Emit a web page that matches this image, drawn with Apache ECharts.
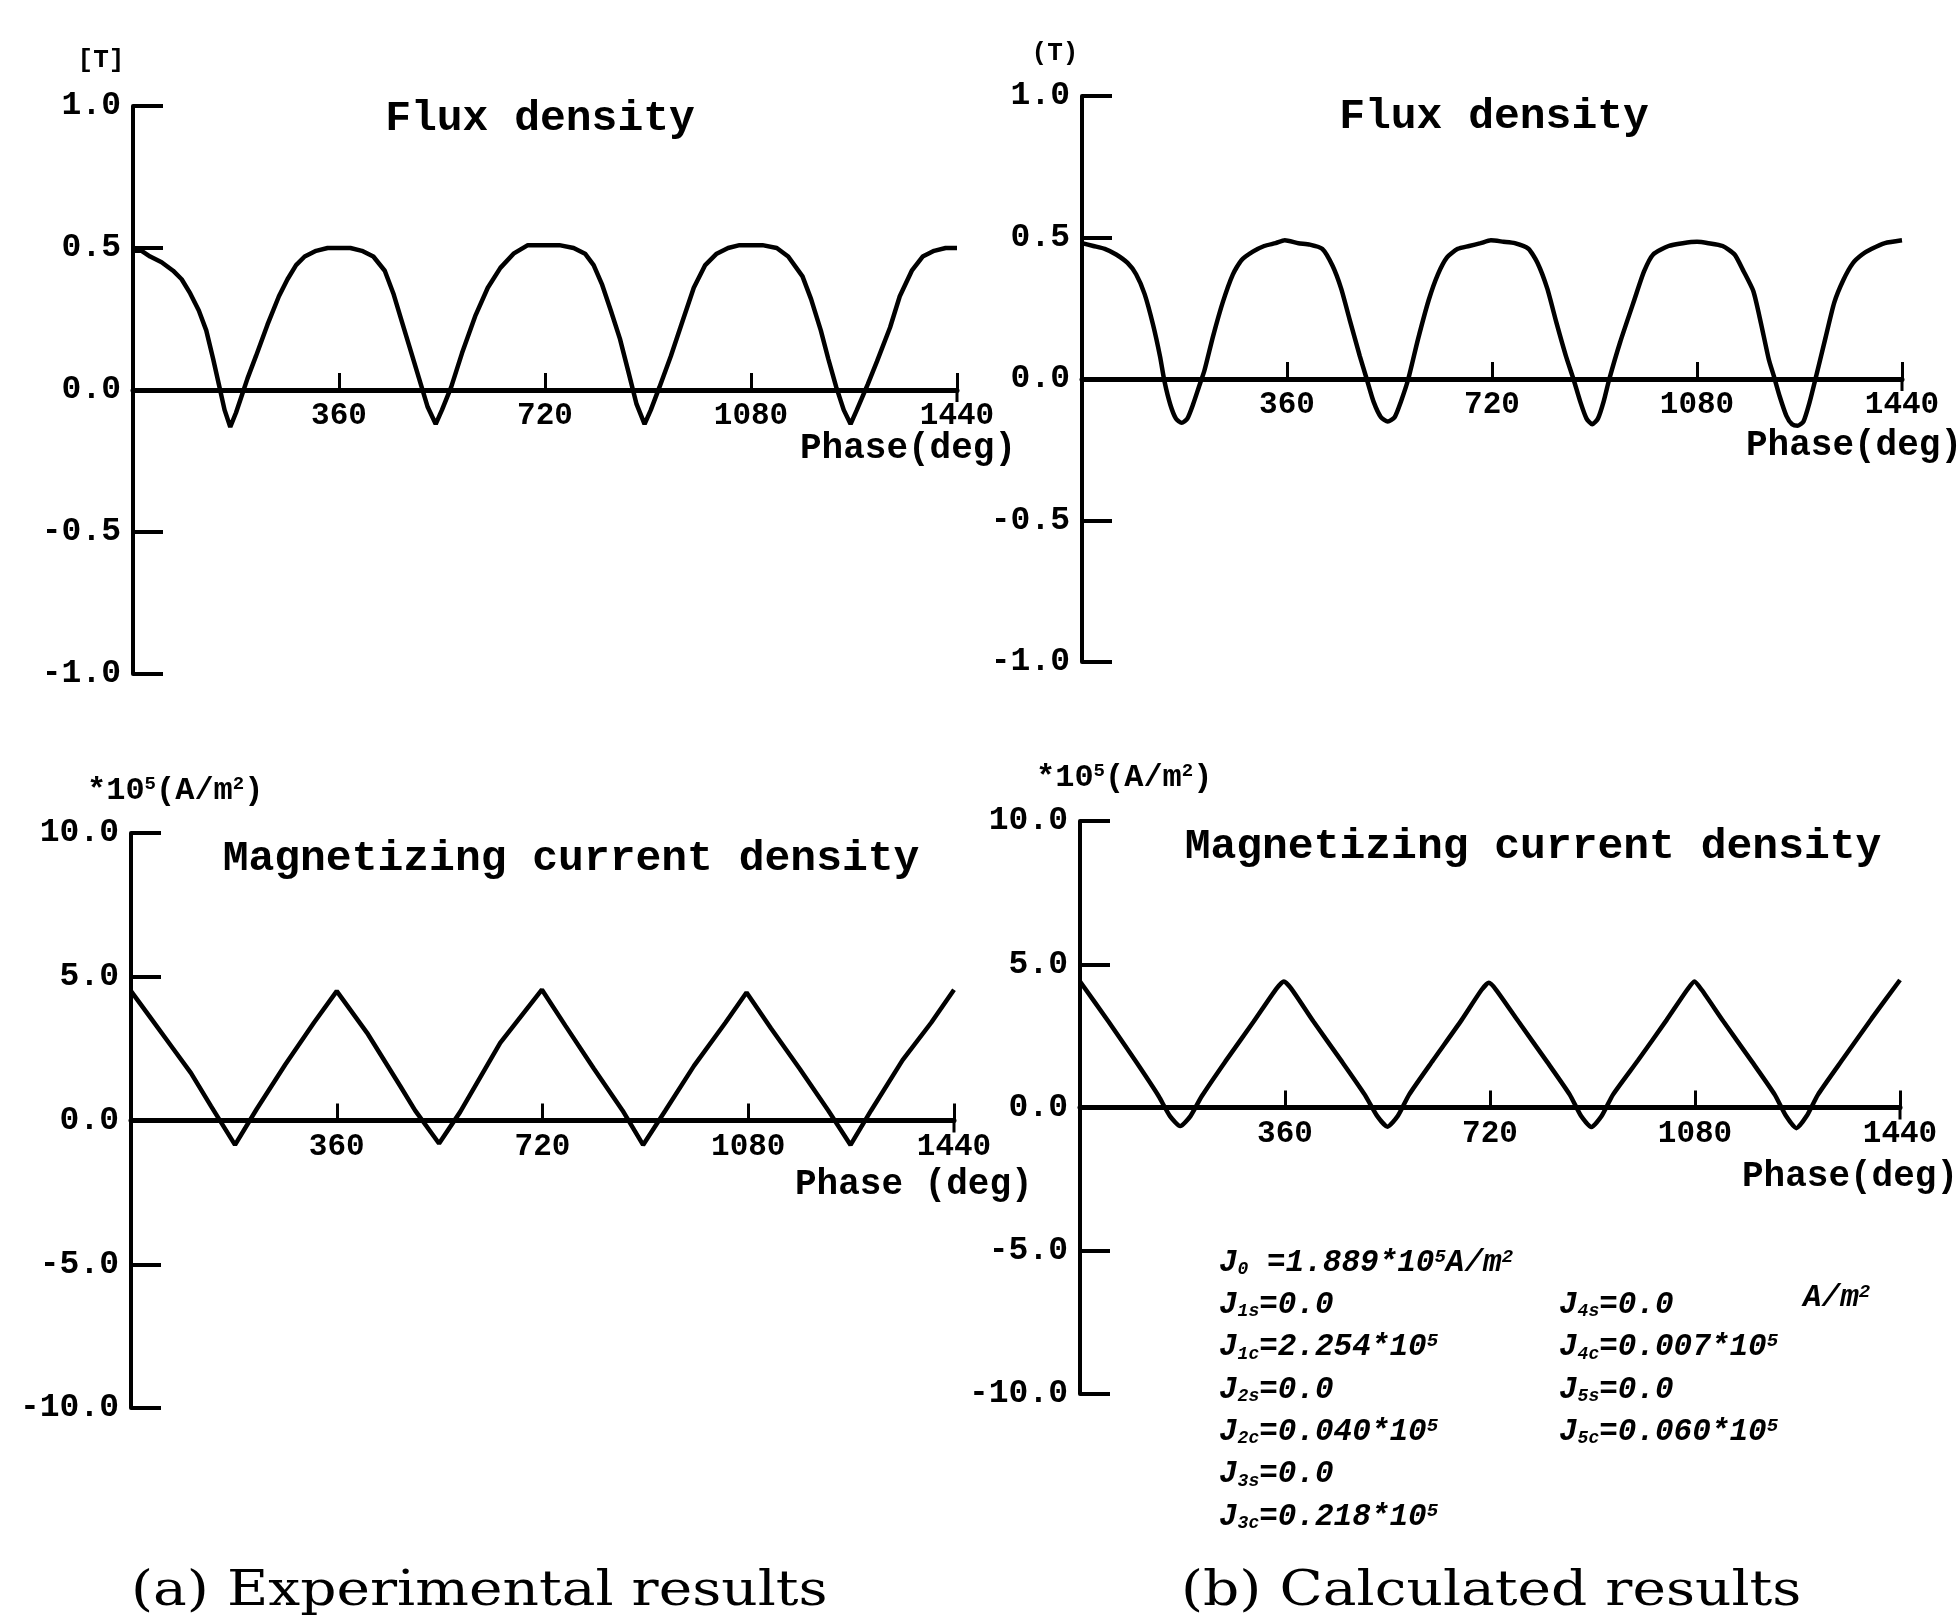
<!DOCTYPE html>
<html><head><meta charset="utf-8">
<script src="https://cdn.jsdelivr.net/npm/echarts@6/dist/echarts.min.js"></script>
<style>html,body{margin:0;padding:0;background:#fff}#c{width:1959px;height:1623px}</style>
</head><body><div id="c"></div>
<script>
// ---------------- data ----------------
const phaseMin = 0, phaseMax = 1440, phaseStep = 360;
const fluxRange = [-1.0, 1.0, 0.5];
const currentRange = [-10.0, 10.0, 5.0];

const fluxExp = [
 [0,0.49],[15,0.49],[30,0.47],[50,0.45],[70,0.42],[85,0.39],[100,0.34],[115,0.28],[128,0.21],[140,0.11],
 [150,0.02],[160,-0.07],[170,-0.13],[180,-0.08],[190,-0.02],[200,0.04],[215,0.12],[235,0.23],[255,0.33],[270,0.39],
 [285,0.44],[300,0.47],[320,0.49],[340,0.50],[360,0.50],
 [380,0.50],[400,0.49],[420,0.47],[440,0.42],[455,0.34],[470,0.24],[488,0.12],[500,0.04],[515,-0.06],[529,-0.12],
 [540,-0.07],[556,0.01],[575,0.13],[598,0.26],[620,0.36],[642,0.43],[665,0.48],[690,0.51],[720,0.51],
 [745,0.51],[770,0.50],[790,0.48],[805,0.44],[820,0.37],[835,0.28],[851,0.18],[865,0.07],[880,-0.05],[894,-0.12],
 [905,-0.07],[920,0.01],[940,0.12],[960,0.24],[980,0.36],[1000,0.44],[1020,0.48],[1040,0.50],[1060,0.51],[1080,0.51],
 [1100,0.51],[1125,0.50],[1145,0.47],[1170,0.40],[1185,0.32],[1202,0.21],[1215,0.11],[1229,0.01],[1242,-0.07],[1254,-0.12],
 [1265,-0.07],[1284,0.02],[1300,0.10],[1323,0.22],[1340,0.33],[1361,0.42],[1380,0.47],[1400,0.49],[1420,0.50],[1440,0.50]
];
const fluxCalc = [
 [0,0.48],[20,0.47],[40,0.46],[60,0.44],[80,0.41],[95,0.37],[110,0.30],[125,0.19],[137,0.08],[145,-0.01],
 [155,-0.09],[165,-0.14],[175,-0.155],[185,-0.14],[195,-0.09],[205,-0.03],[215,0.03],[230,0.15],[247,0.27],[265,0.37],
 [280,0.42],[300,0.45],[320,0.47],[340,0.48],[356,0.49],
 [380,0.48],[400,0.475],[422,0.46],[440,0.40],[455,0.32],[470,0.21],[488,0.08],[500,0.00],[512,-0.08],[525,-0.135],
 [537,-0.15],[549,-0.135],[560,-0.08],[573,0.00],[590,0.14],[609,0.28],[625,0.37],[641,0.43],[660,0.46],[680,0.47],
 [700,0.48],[718,0.49],
 [740,0.485],[760,0.48],[784,0.46],[800,0.41],[817,0.32],[833,0.20],[850,0.08],[863,0.00],[875,-0.08],[886,-0.14],
 [896,-0.16],[906,-0.14],[916,-0.08],[926,0.00],[945,0.13],[970,0.28],[987,0.38],[1003,0.44],[1030,0.47],[1055,0.48],
 [1080,0.485],
 [1100,0.48],[1125,0.47],[1146,0.44],[1162,0.38],[1179,0.31],[1192,0.20],[1206,0.07],[1215,0.01],[1225,-0.06],[1237,-0.13],
 [1247,-0.16],[1257,-0.165],[1267,-0.15],[1278,-0.08],[1288,0.00],[1305,0.14],[1321,0.27],[1337,0.35],[1354,0.41],[1370,0.44],
 [1387,0.46],[1410,0.48],[1440,0.49]
];
const currentExp = [
 [0,4.5],[35,3.55],[70,2.6],[105,1.65],[140,0.5],[182,-0.85],[220,0.4],[270,1.95],[320,3.4],[360,4.5],
 [413,3.05],[471,1.2],[497,0.35],[539,-0.8],[576,0.3],[646,2.7],[719,4.55],
 [760,3.3],[810,1.8],[860,0.35],[896,-0.85],[935,0.35],[985,1.9],[1040,3.4],[1077,4.45],
 [1120,3.2],[1170,1.8],[1220,0.35],[1259,-0.85],[1295,0.35],[1350,2.1],[1400,3.4],[1440,4.55]
];
const currentCalc = [
 [0,4.4],[50,3.0],[100,1.55],[138,0.4],[158,-0.3],[176,-0.65],[194,-0.3],[214,0.4],[255,1.6],[305,3.0],[345,4.15],[358,4.4],[371,4.15],
 [410,3.0],[460,1.6],[500,0.45],[522,-0.3],[540,-0.67],[558,-0.3],[578,0.45],[620,1.65],[670,3.05],[705,4.1],[718,4.35],[731,4.1],
 [770,3.0],[820,1.6],[860,0.45],[880,-0.3],[898,-0.68],[916,-0.3],[936,0.45],[980,1.65],[1030,3.05],[1066,4.1],[1079,4.4],[1092,4.1],
 [1130,3.0],[1180,1.6],[1220,0.45],[1240,-0.3],[1258,-0.72],[1276,-0.3],[1296,0.45],[1340,1.7],[1390,3.1],[1440,4.45]
];

const panelTitles = ['Flux density', 'Magnetizing current density', 'Flux density', 'Magnetizing current density'];
const unitLabels = ['[T]', '*10^{5}(A/m^{2})', '(T)', '*10^{5}(A/m^{2})'];
const phaseLabels = ['Phase(deg)', 'Phase (deg)', 'Phase(deg)', 'Phase(deg)'];
const captions = ['(a) Experimental results', '(b) Calculated results'];
const paramsLeft = [
 'J_{0} =1.889*10^{5}A/m^{2}', 'J_{1s}=0.0', 'J_{1c}=2.254*10^{5}', 'J_{2s}=0.0',
 'J_{2c}=0.040*10^{5}', 'J_{3s}=0.0', 'J_{3c}=0.218*10^{5}'
];
const paramsRight = ['J_{4s}=0.0', 'J_{4c}=0.007*10^{5}', 'J_{5s}=0.0', 'J_{5c}=0.060*10^{5}'];
const paramsRightUnit = 'A/m^{2}';

// ---------------- layout ----------------
const MONO = '"Liberation Mono", "DejaVu Sans Mono", monospace';
const grids = [
  {left:133, top:106, width:824, height:568},
  {left:131, top:833, width:823, height:575},
  {left:1082, top:96, width:820, height:566},
  {left:1080, top:821, width:820, height:573}
];
const ranges = [fluxRange, currentRange, fluxRange, currentRange];
const seriesData = [fluxExp, currentExp, fluxCalc, currentCalc];

const chart = echarts.init(document.getElementById('c'), null, {renderer:'canvas'});

const xAxes = grids.map((g, i) => ({
  type:'value', gridIndex:i, min:phaseMin, max:phaseMax, interval:phaseStep,
  position:'bottom', offset: -g.height / 2,
  axisLine:{show:true, onZero:false, lineStyle:{color:'#000', width:5}},
  axisTick:{show:true, inside:true, length:17, lineStyle:{color:'#000', width:3}},
  axisLabel:{show:true, margin:11, color:'#000', fontFamily:MONO, fontWeight:'bold', fontSize:31,
    formatter: v => v === 0 ? '' : String(v)},
  splitLine:{show:false}
}));
const yAxes = grids.map((g, i) => ({
  type:'value', gridIndex:i, min:ranges[i][0], max:ranges[i][1], interval:ranges[i][2],
  axisLine:{show:true, onZero:false, lineStyle:{color:'#000', width:4}},
  axisTick:{show:true, inside:true, length:30, lineStyle:{color:'#000', width:4}},
  axisLabel:{show:true, margin:12, color:'#000', fontFamily:MONO, fontWeight:'bold', fontSize:33,
    formatter: v => v.toFixed(1)},
  splitLine:{show:false}
}));
const series = seriesData.map((d, i) => ({
  type:'line', xAxisIndex:i, yAxisIndex:i, data:d, showSymbol:false, symbol:'none',
  smooth: i >= 2 ? 0.2 : 0, lineStyle:{color:'#000', width:4.5}, z:3, silent:true
}));

chart.setOption({
  backgroundColor:'#fff', animation:false,
  grid: grids, xAxis: xAxes, yAxis: yAxes, series: series
});

// ---------------- text helpers ----------------
function richify(s) {
  return s.replace(/_\{([^}]*)\}/g, '{s|$1}').replace(/\^\{([^}]*)\}/g, '{p|$1}');
}
function txt(text, x, y, font, align, extra) {
  const fs = parseInt(font.match(/(\d+)px/)[1], 10);
  const style = Object.assign({
    text: richify(text), x:0, y:0, font: font, fill:'#000',
    textAlign: align || 'left', textVerticalAlign:'middle', align: align || 'left', verticalAlign:'middle',
    rich: {
      p: {font: font.replace(/\d+px/, Math.round(fs*0.6)+'px'), fill:'#000', verticalAlign:'top'},
      s: {font: font.replace(/\d+px/, Math.round(fs*0.58)+'px'), fill:'#000', verticalAlign:'bottom'}
    }
  }, (extra && extra.style) || {});
  return Object.assign({type:'text', x:x, y:y, silent:true, z:10, style: style}, (extra && extra.el) || {});
}

const titlePos = [[540,119],[571,859],[1494,117],[1533,847]];
const unitPos = [[101,60,'center',26],[87,791,'left',32],[1055,53,'center',26],[1036,778,'left',32]];
const phasePos = [[800,449],[795,1185],[1746,446],[1742,1177]];

const graphics = [];
panelTitles.forEach((t, i) => graphics.push(txt(t, titlePos[i][0], titlePos[i][1], 'bold 43px ' + MONO, 'center')));
unitLabels.forEach((t, i) => graphics.push(txt(t, unitPos[i][0], unitPos[i][1], 'bold ' + unitPos[i][3] + 'px ' + MONO, unitPos[i][2])));
phaseLabels.forEach((t, i) => graphics.push(txt(t, phasePos[i][0], phasePos[i][1], 'bold 36px ' + MONO, 'left')));

const pFont = 'italic bold 31px ' + MONO;
const lineGap = 42.3;
paramsLeft.forEach((t, k) => graphics.push(txt(t, 1219, 1263 + k*lineGap, pFont, 'left')));
paramsRight.forEach((t, k) => graphics.push(txt(t, 1559, 1263 + (k+1)*lineGap, pFont, 'left')));
graphics.push(txt(paramsRightUnit, 1803, 1298, pFont, 'left'));

const capFont = '48px "DejaVu Serif", "Liberation Serif", serif';
graphics.push(txt(captions[0], 131, 1593, capFont, 'left', {el:{scaleX:1.18}}));
graphics.push(txt(captions[1], 1181, 1593, capFont, 'left', {el:{scaleX:1.18}}));

// lower half of the end tick at phaseMax, placed through the axis scales
grids.forEach((g, i) => {
  const p = chart.convertToPixel({xAxisIndex:i, yAxisIndex:i}, [phaseMax, 0]);
  graphics.push({type:'line', silent:true, z:5,
    shape:{x1:p[0], y1:p[1], x2:p[0], y2:p[1] + 12},
    style:{stroke:'#000', lineWidth:3}});
});

chart.setOption({graphic: graphics});
</script></body></html>
